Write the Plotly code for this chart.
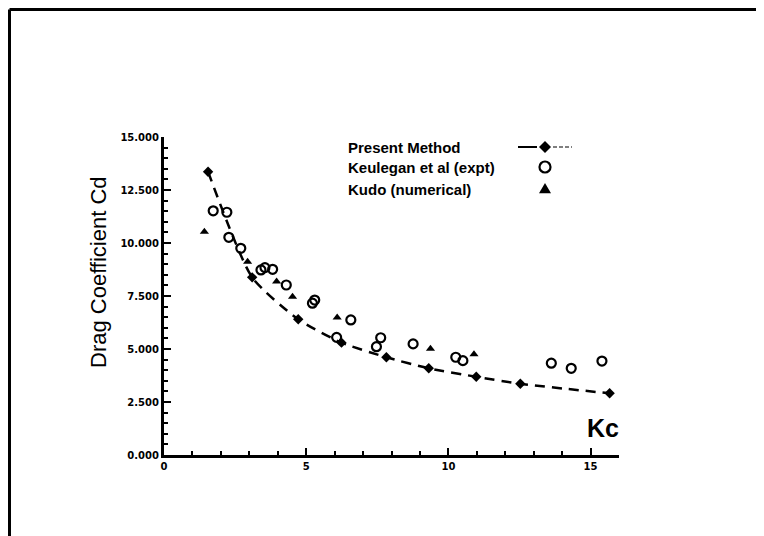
import plotly.graph_objects as go

# Present Method (dashed line with diamonds)
pm_kc = [1.55, 3.10, 4.72, 6.24, 7.82, 9.31, 10.98, 12.53, 15.67]
pm_cd = [13.36, 8.38, 6.40, 5.30, 4.61, 4.09, 3.69, 3.36, 2.91]

# Keulegan et al (expt) - open circles
ke_kc = [1.73, 2.21, 2.28, 2.70, 3.41, 3.55, 3.82, 4.30, 5.22, 5.30, 6.07, 6.57,
         7.47, 7.62, 8.76, 10.26, 10.51, 13.62, 14.32, 15.40]
ke_cd = [11.52, 11.45, 10.27, 9.75, 8.73, 8.84, 8.76, 8.02, 7.16, 7.31, 5.55, 6.37,
         5.11, 5.53, 5.24, 4.61, 4.45, 4.33, 4.09, 4.43]

# Kudo (numerical) - filled triangles
ku_kc = [1.42, 2.94, 3.96, 4.52, 6.09, 9.37, 10.90]
ku_cd = [10.53, 9.12, 8.18, 7.47, 6.48, 5.01, 4.75]

y_ticks = [0, 2.5, 5, 7.5, 10, 12.5, 15]
y_tick_text = ["0.000", "2.500", "5.000", "7.500", "10.000", "12.500", "15.000"]
x_ticks = [0, 5, 10, 15]

legend_labels = ["Present Method", "Keulegan et al (expt)", "Kudo (numerical)"]

W, H = 764, 536
OFF = 8  # page body margin
L, T = 164 - OFF, 137 - OFF
PW, PH = 455, 318
R, B = W - L - PW, H - T - PH


def px(xp):
    # xp: target screen pixel
    return (xp - OFF - L) / PW


def py(yp):
    return (T + PH - (yp - OFF)) / PH


fig = go.Figure()

fig.add_trace(go.Scatter(
    x=pm_kc, y=pm_cd, mode="lines+markers",
    line=dict(color="black", width=2.5, dash="10px,7px", shape="spline", smoothing=0.6),
    marker=dict(symbol="diamond", size=8, color="black"),
    showlegend=False, cliponaxis=False))

fig.add_trace(go.Scatter(
    x=ke_kc, y=ke_cd, mode="markers",
    marker=dict(symbol="circle-open", size=9, color="black", line=dict(width=2.2)),
    showlegend=False, cliponaxis=False))

fig.add_trace(go.Scatter(
    x=ku_kc, y=ku_cd, mode="markers",
    marker=dict(symbol="triangle-up", size=8, color="black"),
    showlegend=False, cliponaxis=False))

shapes = []
# outer frame (top and left only)
shapes.append(dict(type="line", xref="paper", yref="paper",
                   x0=px(9.5), y0=py(9.5), x1=px(W + 20), y1=py(9.5),
                   line=dict(color="black", width=3)))
shapes.append(dict(type="line", xref="paper", yref="paper",
                   x0=px(9.5), y0=py(9.5), x1=px(9.5), y1=py(H + 20),
                   line=dict(color="black", width=3)))

# legend symbols
sx = 545
ly = [147, 167, 189]
shapes.append(dict(type="line", xref="paper", yref="paper",
                   x0=px(518), y0=py(ly[0]), x1=px(537), y1=py(ly[0]),
                   line=dict(color="black", width=2)))
shapes.append(dict(type="line", xref="paper", yref="paper",
                   x0=px(553), y0=py(ly[0]), x1=px(572), y1=py(ly[0]),
                   line=dict(color="black", width=1.2, dash="4px,2px")))
d = 6
shapes.append(dict(type="path", xref="paper", yref="paper",
                   path=f"M {px(sx)} {py(ly[0]-d)} L {px(sx+d)} {py(ly[0])} L {px(sx)} {py(ly[0]+d)} L {px(sx-d)} {py(ly[0])} Z",
                   fillcolor="black", line=dict(color="black", width=0)))
r = 5.5
shapes.append(dict(type="circle", xref="paper", yref="paper",
                   x0=px(sx - r), x1=px(sx + r), y0=py(ly[1] - r), y1=py(ly[1] + r),
                   line=dict(color="black", width=2.2)))
t = 6
shapes.append(dict(type="path", xref="paper", yref="paper",
                   path=f"M {px(sx)} {py(ly[2]-t)} L {px(sx+t)} {py(ly[2]+t*0.7)} L {px(sx-t)} {py(ly[2]+t*0.7)} Z",
                   fillcolor="black", line=dict(color="black", width=0)))

annotations = []
for lab, yy in zip(legend_labels, ly):
    annotations.append(dict(text=lab, xref="paper", yref="paper", x=px(346), y=py(yy),
                            xanchor="left", yanchor="middle", showarrow=False,
                            font=dict(family="Liberation Sans", size=15, color="black", weight="bold")))

annotations.append(dict(text="Drag Coefficient Cd", xref="paper", yref="paper",
                        x=px(98), y=py(272), textangle=-90, xanchor="center", yanchor="middle",
                        showarrow=False, font=dict(family="Liberation Sans", size=22, color="black")))
annotations.append(dict(text="Kc", xref="paper", yref="paper",
                        x=px(603), y=py(428), xanchor="center", yanchor="middle",
                        showarrow=False, font=dict(family="Liberation Sans", size=25, color="black", weight="bold")))

fig.update_layout(
    width=W, height=H,
    margin=dict(l=L, r=R, t=T, b=B),
    paper_bgcolor="white", plot_bgcolor="white",
    shapes=shapes, annotations=annotations,
    xaxis=dict(range=[0, 16], showgrid=False, zeroline=False, showline=True,
               linecolor="black", linewidth=3, ticks="inside", ticklen=7, tickwidth=2,
               tickcolor="black", tickvals=x_ticks,
               minor=dict(dtick=1, ticks="inside", ticklen=4, tickwidth=2, tickcolor="black"),
               tickfont=dict(family="DejaVu Sans", size=10, color="black", weight="bold")),
    yaxis=dict(range=[0, 15], showgrid=False, zeroline=False, showline=True,
               linecolor="black", linewidth=3, ticks="inside", ticklen=7, tickwidth=2,
               tickcolor="black", tickvals=y_ticks, ticktext=y_tick_text,
               minor=dict(dtick=0.5, ticks="inside", ticklen=4, tickwidth=2, tickcolor="black"),
               tickfont=dict(family="DejaVu Sans", size=10, color="black", weight="bold")),
)

fig.write_html("out.html")
